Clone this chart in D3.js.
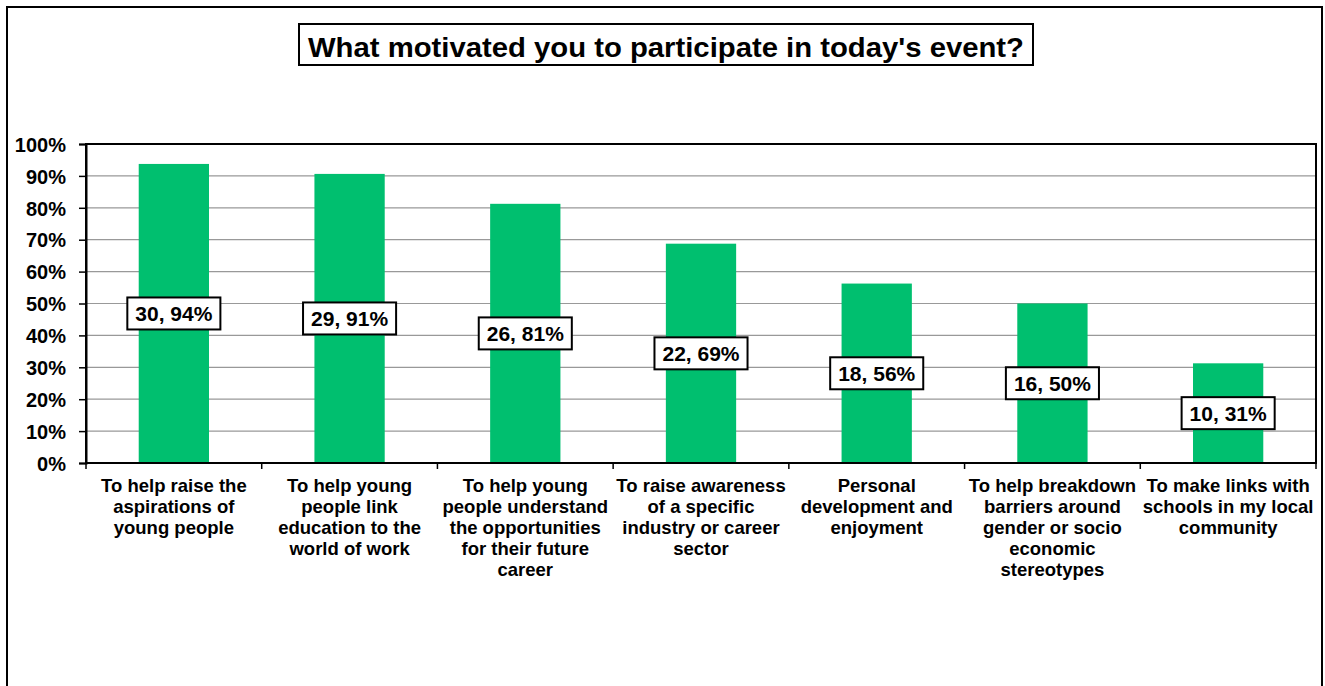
<!DOCTYPE html>
<html>
<head>
<meta charset="utf-8">
<script src="https://cdn.jsdelivr.net/npm/d3@7"></script>
<style>
  html, body { margin: 0; padding: 0; background: #fff; }
  svg { display: block; font-family: Arial, "Liberation Sans", sans-serif; }
</style>
</head>
<body>
<svg id="chart" width="1325" height="686"></svg>
<script>
// Survey question: reasons for taking part (32 respondents)
const title = "What motivated you to participate in today's event?";
const categories = [
  ["To help raise the", "aspirations of", "young people"],
  ["To help young", "people link", "education to the", "world of work"],
  ["To help young", "people understand", "the opportunities", "for their future", "career"],
  ["To raise awareness", "of a specific", "industry or career", "sector"],
  ["Personal", "development and", "enjoyment"],
  ["To help breakdown", "barriers around", "gender or socio", "economic", "stereotypes"],
  ["To make links with", "schools in my local", "community"]
];
const counts = [30, 29, 26, 22, 18, 16, 10];
const percents = [93.75, 90.625, 81.25, 68.75, 56.25, 50, 31.25];
const yTicks = [0, 10, 20, 30, 40, 50, 60, 70, 80, 90, 100];

const data = categories.map((lines, i) => ({ id: i, lines, count: counts[i], pct: percents[i] }));

const svg = d3.select("#chart");
const plot = { left: 86, top: 144, right: 1316, bottom: 463 };

// Outer frame
svg.append("rect")
  .attr("x", 7).attr("y", 7)
  .attr("width", 1315).attr("height", 720)
  .attr("fill", "#fff").attr("stroke", "#000").attr("stroke-width", 2);

// Title box
const titleG = svg.append("g");
titleG.append("rect")
  .attr("x", 299).attr("y", 24)
  .attr("width", 734).attr("height", 41)
  .attr("fill", "#fff").attr("stroke", "#000").attr("stroke-width", 2);
titleG.append("text")
  .attr("x", 308).attr("y", 57)
  .attr("font-size", 27).attr("font-weight", "bold")
  .attr("textLength", 716).attr("lengthAdjust", "spacingAndGlyphs")
  .text(title);

const x = d3.scaleBand()
  .domain(data.map(d => d.id))
  .range([plot.left, plot.right])
  .paddingInner(0).paddingOuter(0);

const y = d3.scaleLinear().domain([0, 100]).range([plot.bottom, plot.top]);

// Gridlines
svg.append("g")
  .selectAll("line")
  .data(yTicks.filter(t => t > 0 && t < 100))
  .join("line")
  .attr("x1", plot.left).attr("x2", plot.right)
  .attr("y1", d => y(d)).attr("y2", d => y(d))
  .attr("stroke", "#999").attr("stroke-width", 1.2);

// Bars (bar width = 40% of the category slot)
const barW = x.bandwidth() * 0.4;
svg.append("g")
  .selectAll("rect")
  .data(data)
  .join("rect")
  .attr("x", d => x(d.id) + (x.bandwidth() - barW) / 2)
  .attr("y", d => y(d.pct))
  .attr("width", barW)
  .attr("height", d => y(0) - y(d.pct))
  .attr("fill", "#00BF6F");

// Plot border
svg.append("rect")
  .attr("x", plot.left).attr("y", plot.top)
  .attr("width", plot.right - plot.left).attr("height", plot.bottom - plot.top)
  .attr("fill", "none").attr("stroke", "#000").attr("stroke-width", 2);

// Y axis
const yAxis = svg.append("g")
  .attr("transform", `translate(${plot.left},0)`)
  .call(d3.axisLeft(y).tickValues(yTicks).tickFormat(d => d + "%").tickSize(7).tickPadding(13));
yAxis.select(".domain").attr("stroke", "#000").attr("stroke-width", 2);
yAxis.selectAll(".tick line").attr("stroke", "#000").attr("stroke-width", 1.5);
yAxis.selectAll(".tick text")
  .attr("font-family", "Arial, 'Liberation Sans', sans-serif")
  .attr("font-size", 20).attr("font-weight", "bold").attr("fill", "#000")
  .attr("dy", "0.36em");

// X axis: ticks at the category boundaries
const boundaries = data.map(d => x(d.id)).concat([plot.right]);
svg.append("g")
  .selectAll("line")
  .data(boundaries)
  .join("line")
  .attr("x1", d => d).attr("x2", d => d)
  .attr("y1", plot.bottom).attr("y2", plot.bottom + 6)
  .attr("stroke", "#000").attr("stroke-width", 1.5);

// Category labels
const catG = svg.append("g");
data.forEach(d => {
  const t = catG.append("text")
    .attr("text-anchor", "middle")
    .attr("font-size", 18.5).attr("font-weight", "bold").attr("fill", "#000");
  d.lines.forEach((line, i) => {
    t.append("tspan")
      .attr("x", x(d.id) + x.bandwidth() / 2)
      .attr("y", 492 + i * 21)
      .text(line);
  });
});

// Value labels: "count, percent" boxed at the middle of each bar
const lab = svg.append("g")
  .selectAll("g")
  .data(data)
  .join("g")
  .attr("transform", d => `translate(${x(d.id) + x.bandwidth() / 2},${y(d.pct / 2)})`);
lab.append("rect").attr("class", "box")
  .attr("fill", "#fff").attr("stroke", "#000").attr("stroke-width", 2);
lab.append("text")
  .attr("text-anchor", "middle").attr("y", 7.5)
  .attr("font-size", 21).attr("font-weight", "bold").attr("fill", "#000")
  .text(d => `${d.count}, ${Math.round(d.pct)}%`);
lab.each(function () {
  const g = d3.select(this);
  const w = g.select("text").node().getComputedTextLength() + 16;
  g.select("rect").attr("x", -w / 2).attr("y", -16).attr("width", w).attr("height", 32);
});
</script>
</body>
</html>
